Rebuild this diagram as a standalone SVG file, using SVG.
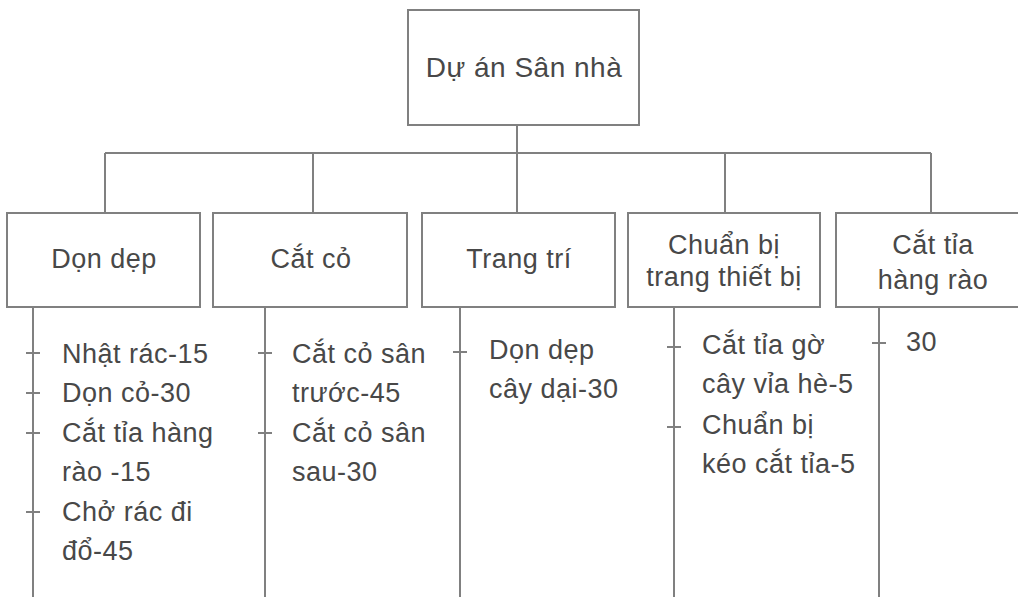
<svg xmlns="http://www.w3.org/2000/svg" width="1018" height="597" viewBox="0 0 1018 597">
<style>
.box{fill:#fff;stroke:#808080;stroke-width:2}
.ln{stroke:#808080;stroke-width:2;fill:none}
text{font-family:"Liberation Sans",Arial,sans-serif;font-size:27px;fill:#484848;letter-spacing:0.5px}
.c{text-anchor:middle}
.t{font-size:28px}
</style>
<rect width="1018" height="597" fill="#fff"/>
<g id="connectors">
<path class="ln" d="M517 125V213M105 153H931M105 153V213M313 153V213M725 153V213M931 153V213"/>
</g>
<g id="root">
<rect class="box" x="408" y="10" width="231" height="115"/>
<text class="c t" x="524" y="77">Dự án Sân nhà</text>
</g>
<g id="don-dep">
<rect class="box" x="7" y="213" width="193" height="94"/>
<text class="c" x="104" y="268">Dọn dẹp</text>
<path class="ln" d="M33 307V597M26 353H40M26 393H40M26 433H40M26 512H40"/>
<text x="62" y="363">Nhật rác-15</text>
<text x="62" y="402">Dọn cỏ-30</text>
<text x="62" y="442">Cắt tỉa hàng</text>
<text x="62" y="481">rào -15</text>
<text x="62" y="521">Chở rác đi</text>
<text x="62" y="560">đổ-45</text>
</g>
<g id="cat-co">
<rect class="box" x="213" y="213" width="194" height="94"/>
<text class="c" x="311" y="268">Cắt cỏ</text>
<path class="ln" d="M265 307V597M258 353H272M258 433H272"/>
<text x="292" y="363">Cắt cỏ sân</text>
<text x="292" y="402">trước-45</text>
<text x="292" y="442">Cắt cỏ sân</text>
<text x="292" y="481">sau-30</text>
</g>
<g id="trang-tri">
<rect class="box" x="422" y="213" width="193" height="94"/>
<text class="c" x="519" y="268">Trang trí</text>
<path class="ln" d="M460 307V597M453 352H467"/>
<text x="489" y="359">Dọn dẹp</text>
<text x="489" y="398">cây dại-30</text>
</g>
<g id="chuan-bi">
<rect class="box" x="628" y="213" width="192" height="94"/>
<text class="c" x="724" y="254">Chuẩn bị</text>
<text class="c" x="724" y="286">trang thiết bị</text>
<path class="ln" d="M674 307V597M667 347H681M667 427H681"/>
<text x="702" y="354">Cắt tỉa gờ</text>
<text x="702" y="393">cây vỉa hè-5</text>
<text x="702" y="434">Chuẩn bị</text>
<text x="702" y="473">kéo cắt tỉa-5</text>
</g>
<g id="cat-tia">
<rect class="box" x="836" y="213" width="194" height="94"/>
<text class="c" x="933" y="254">Cắt tỉa</text>
<text class="c" x="933" y="289">hàng rào</text>
<path class="ln" d="M879 307V597M872 343H886"/>
<text x="906" y="351">30</text>
</g>
</svg>
